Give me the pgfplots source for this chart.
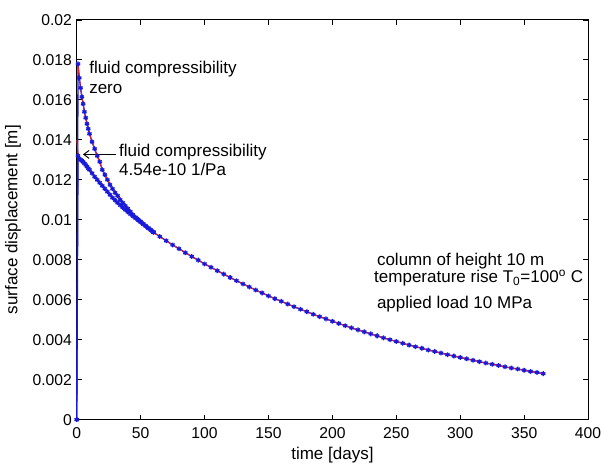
\documentclass[border=0pt]{standalone}
\usepackage{pgfplots}
\pgfplotsset{compat=1.18}
\usepackage{pgfplotstable}
\usepackage{fontspec}
\setmainfont{Liberation Sans}
\usetikzlibrary{arrows.meta}
\definecolor{mblue}{rgb}{0.1,0.1,0.85}
\definecolor{mred}{rgb}{0.9,0.12,0.22}

\pgfplotstableread{
t v
0 0
1 0.0178
2 0.0171
3 0.0166
4 0.01615
5 0.0158
6 0.0154
7 0.0151
8 0.0148
9 0.01455
10 0.0143
12 0.0139
14 0.01355
16 0.0132
18 0.0129
20 0.0125
22 0.01225
24 0.0120
26 0.01175
28 0.01155
30 0.01135
32 0.0112
34 0.0110
36 0.01085
38 0.0107
40 0.01055
42 0.0104
44 0.01025
46 0.01013
48 0.01002
50 0.00991
52 0.0098
54 0.00969
56 0.00959
58 0.00949
60 0.00939
}\upperNum

\pgfplotstableread{
t v
0 0
1 0.0132
2 0.01305
3 0.0130
4 0.01295
5 0.0129
6 0.01282
7 0.01274
8 0.01266
9 0.01258
10 0.0125
12 0.01233
14 0.01215
16 0.0120
18 0.01185
20 0.0117
22 0.01155
24 0.0114
26 0.01125
28 0.0111
30 0.01098
32 0.01085
34 0.01073
36 0.01061
38 0.0105
40 0.01039
42 0.01028
44 0.01018
46 0.01008
48 0.00998
50 0.00988
52 0.00978
54 0.00968
56 0.00958
58 0.00948
60 0.00938
}\lowerNum

\pgfplotstableread{
t v
0 0.0178
1 0.0177
2 0.0171
3 0.0166
4 0.01615
5 0.0158
6 0.0154
8 0.0148
10 0.0143
12 0.0139
14 0.01355
16 0.0132
18 0.0129
20 0.0125
24 0.0120
28 0.01155
32 0.0112
36 0.01085
40 0.01055
44 0.01025
48 0.01002
52 0.0098
56 0.00959
60 0.00939
}\upperAna

\pgfplotstableread{
t v
0 0.0140
1 0.01335
2 0.0131
3 0.0130
4 0.01295
6 0.01282
8 0.01266
10 0.0125
14 0.01215
18 0.01185
22 0.01155
26 0.01125
30 0.01098
34 0.01073
38 0.0105
42 0.01028
46 0.01008
50 0.00988
54 0.00968
58 0.00948
60 0.00938
}\lowerAna

\pgfplotstableread{
t v
60 0.00937
65 0.00916
70 0.00895
75 0.00874
80 0.00855
85 0.00835
90 0.00816
95 0.00798
100 0.00779
105 0.00762
110 0.00745
115 0.00728
120 0.00711
125 0.00695
130 0.00679
135 0.00664
140 0.00648
145 0.00634
150 0.00619
155 0.00605
160 0.00592
165 0.00578
170 0.00565
175 0.00552
180 0.00540
185 0.00527
190 0.00515
195 0.00504
200 0.00492
205 0.00481
210 0.00470
215 0.00459
220 0.00449
225 0.00439
230 0.00429
235 0.00419
240 0.00409
245 0.00400
250 0.00391
255 0.00382
260 0.00373
265 0.00365
270 0.00357
275 0.00348
280 0.00341
285 0.00333
290 0.00325
295 0.00318
300 0.00311
305 0.00304
310 0.00297
315 0.00290
320 0.00283
325 0.00277
330 0.00271
335 0.00264
340 0.00258
345 0.00253
350 0.00247
355 0.00241
360 0.00236
365 0.00230
}\tail

\begin{document}
\begin{tikzpicture}[font=\fontsize{12.8}{15}\selectfont]
\begin{axis}[
  scale only axis,
  width=384.75pt, height=300.75pt,
  xmin=0, xmax=400, ymin=0, ymax=0.02,
  xtick={0,50,100,150,200,250,300,350,400},
  xticklabels={0,50,100,150,200,250,300,350,400},
  ytick={0,0.002,0.004,0.006,0.008,0.01,0.012,0.014,0.016,0.018,0.02},
  yticklabels={0,0.002,0.004,0.006,0.008,0.01,0.012,0.014,0.016,0.018,0.02},
  scaled y ticks=false,
  tick align=inside,
  major tick length=3.75pt,
  tick style={black, line width=0.6pt},
  axis line style={black, line width=0.8pt},
  tick label style={font=\fontsize{11.8}{14}\selectfont},
  xticklabel style={anchor=base, inner sep=0pt, yshift=-14pt},
  yticklabel style={anchor=east, inner sep=0pt, xshift=-3.5pt},
  xlabel={time [days]},
  ylabel={surface displacement [m]},
  every axis x label/.style={at={(axis description cs:0.5,0)}, anchor=base, yshift=-30pt},
  every axis y label/.style={at={([xshift=-48pt]axis description cs:0,0.5)}, anchor=center, rotate=90},
  clip=false,
]
\addplot[mblue, line width=1pt, mark=asterisk, mark size=1.8pt] table[x=t,y=v] {\upperNum};
\addplot[mblue, line width=1pt, mark=asterisk, mark size=1.8pt] table[x=t,y=v] {\lowerNum};
\addplot[mblue, line width=1pt, mark=asterisk, mark size=1.8pt] table[x=t,y=v] {\tail};
\addplot[mred, line width=0.75pt] table[x=t,y=v] {\upperAna};
\addplot[mred, line width=0.75pt] table[x=t,y=v] {\lowerAna};
\addplot[mred, line width=0.75pt] table[x=t,y=v] {\tail};

\node[anchor=base west, inner sep=0pt] at (axis cs:9.6,0.01731) {fluid compressibility};
\node[anchor=base west, inner sep=0pt] at (axis cs:9.6,0.01631) {zero};
\node[anchor=base west, inner sep=0pt] at (axis cs:33,0.01318) {fluid compressibility};
\node[anchor=base west, inner sep=0pt] at (axis cs:33,0.01223) {4.54e-10 1/Pa};
\draw[black, line width=0.7pt, -{Straight Barb[length=4pt,width=6pt]}] (axis cs:30.9,0.01327) -- (axis cs:4.9,0.01327);

\node[anchor=base west, inner sep=0pt] at (axis cs:234.7,0.00773) {column of height 10 m};
\node[anchor=base west, inner sep=0pt] at (axis cs:232.5,0.00687) {temperature rise T\textsubscript{0}=100\textsuperscript{o} C};
\node[anchor=base west, inner sep=0pt] at (axis cs:234.7,0.00554) {applied load 10 MPa};
\end{axis}
\pgfresetboundingbox
\path ([shift={(-57.75pt,-33pt)}]current axis.south west) rectangle ([shift={(10.5pt,15pt)}]current axis.north east);
\end{tikzpicture}
\end{document}
